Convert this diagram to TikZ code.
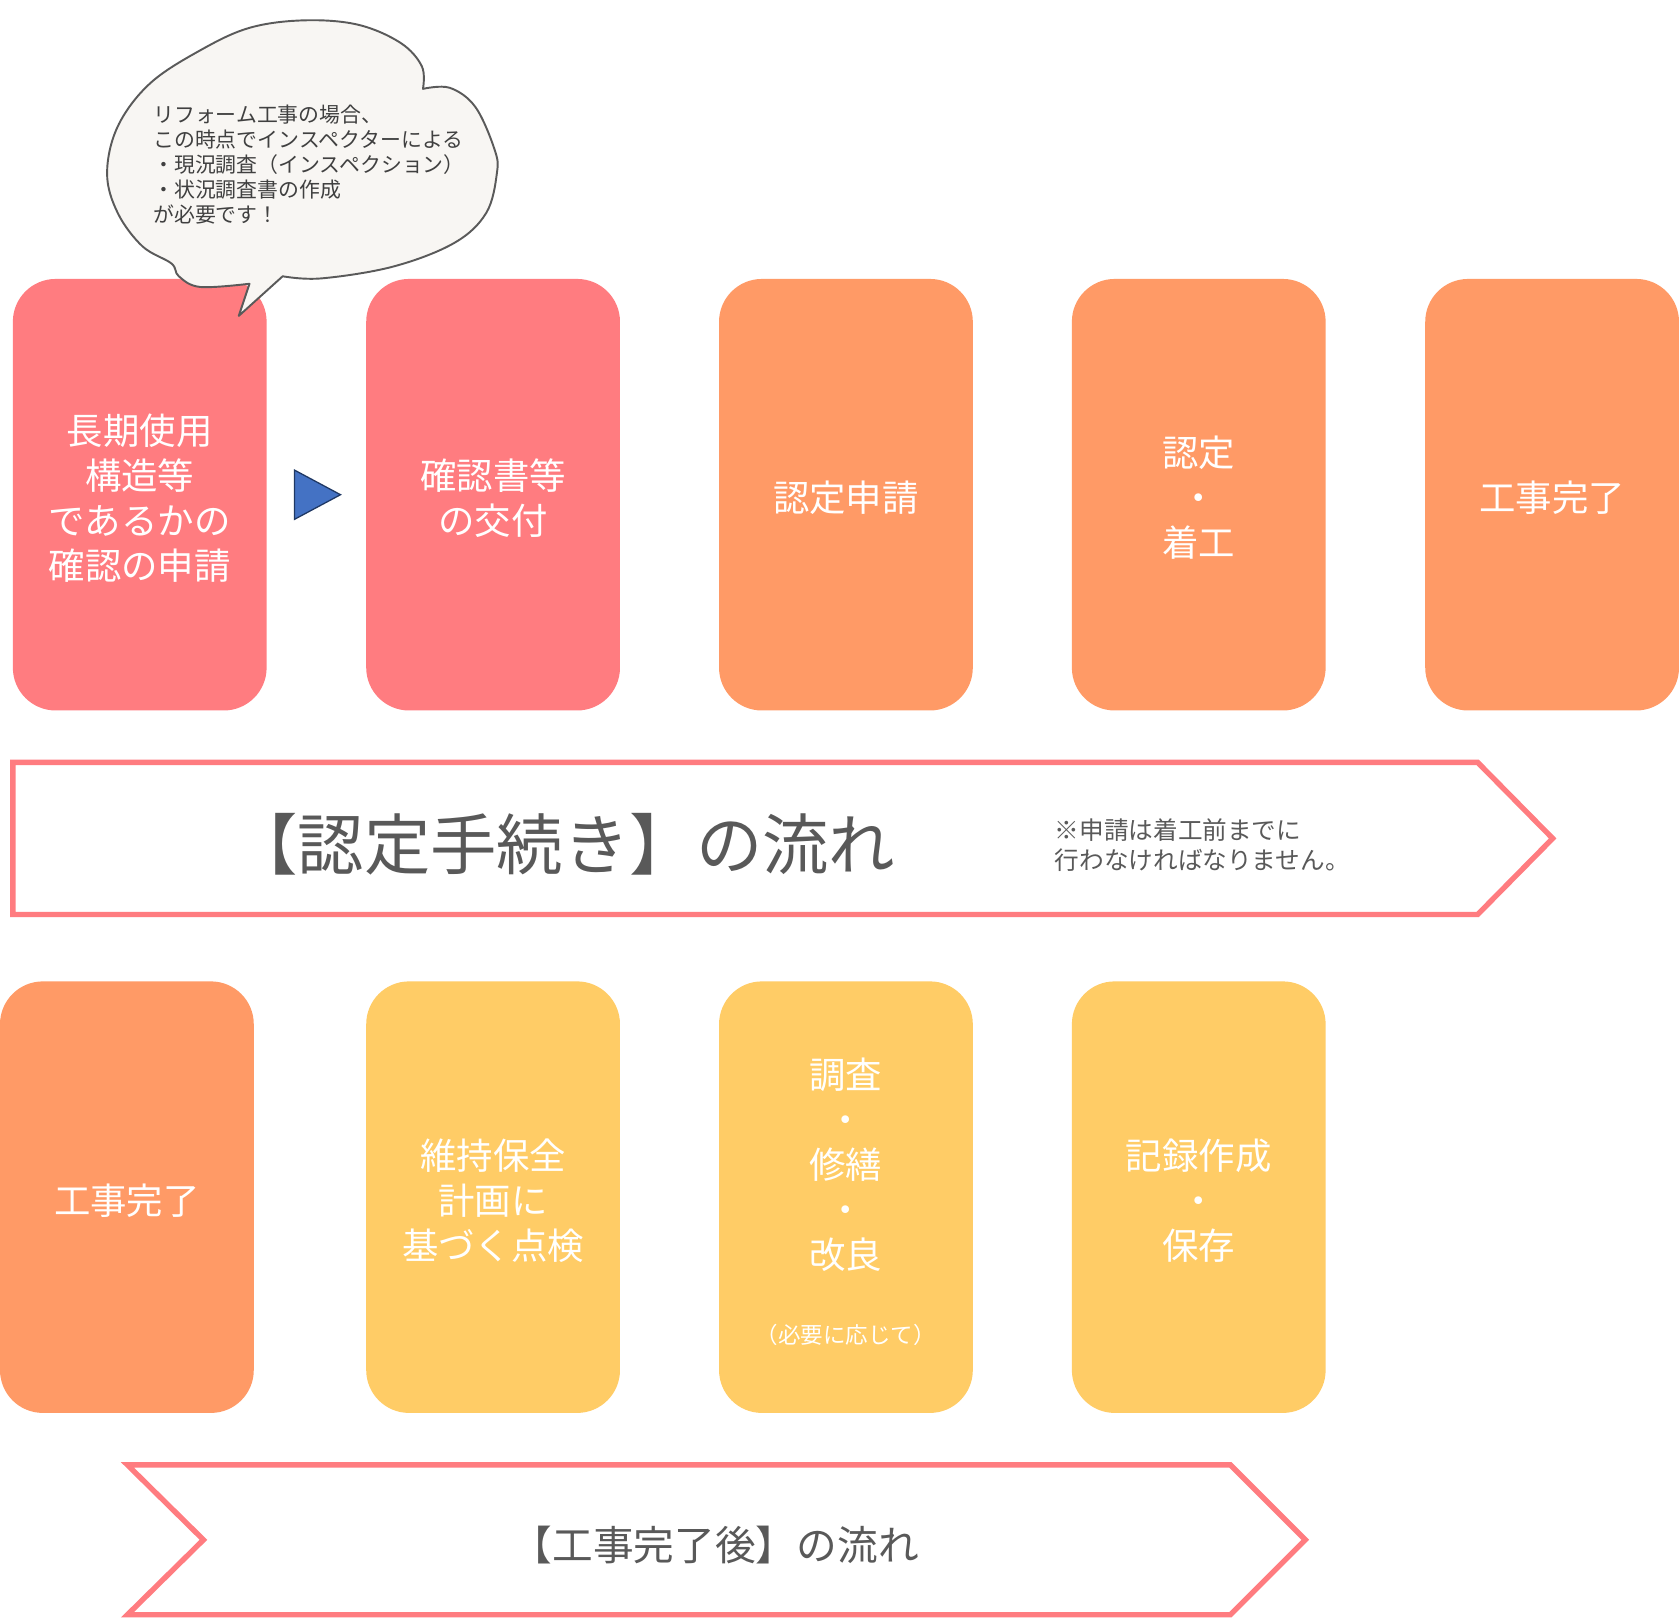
\documentclass[tikz,border=0pt]{standalone}
\usepackage{fontspec}
\setmainfont{Noto Sans CJK JP}
\definecolor{pinkc}{HTML}{FF7C80}
\definecolor{orangec}{HTML}{FF9A66}
\definecolor{yellowc}{HTML}{FFCC66}
\definecolor{txtgray}{HTML}{595959}
\definecolor{bubblefill}{HTML}{F8F6F3}
\definecolor{bubbleline}{HTML}{5A5A5A}
\definecolor{bubbletext}{HTML}{404040}
\definecolor{tric}{HTML}{4472C4}
\definecolor{trid}{HTML}{1F3864}
\begin{document}
\begin{tikzpicture}[x=1pt,y=-1pt,
  stepbox/.style={rounded corners=40pt, minimum width=237pt, minimum height=403pt, inner sep=0pt, draw=none},
  boxtext/.style={text=white, align=center, font=\fontsize{34}{42}\selectfont, inner sep=0pt},
  flowarrow/.style={draw=pinkc, line width=5pt, fill=white, line join=miter},
  flowtext/.style={text=txtgray, inner sep=0pt}]
\useasboundingbox[fill=white] (0,0) rectangle (1568,1512);

% top row
\node[stepbox, fill=pinkc]   (b1) at (130.5,462) {};
\node[stepbox, fill=pinkc]   (b2) at (460.5,462) {};
\node[stepbox, fill=orangec] (b3) at (790,462) {};
\node[stepbox, fill=orangec] (b4) at (1119.5,462) {};
\node[stepbox, fill=orangec] (b5) at (1449.5,462) {};
\node[boxtext] (t1) at (130.5,465) {長期使用\\構造等\\であるかの\\確認の申請};
\node[boxtext] (t2) at (460.5,465) {確認書等\\の交付};
\node[boxtext] (t3) at (790,465) {認定申請};
\node[boxtext] (t4) at (1119.5,465) {認定\\・\\着工};
\node[boxtext] (t5) at (1449.5,465) {工事完了};

% blue triangle marker
\coordinate (tA) at (275,439);
\coordinate (tB) at (318,462);
\coordinate (tC) at (275,485);
\draw[fill=tric, draw=trid, line width=1.2pt, line join=miter] (tA) -- (tB) -- (tC) -- cycle;

% first flow arrow
\draw[flowarrow] (12,712) -- (1380,712) -- (1450,783) -- (1380,854) -- (12,854) -- cycle;
\node[flowtext, font=\fontsize{62}{62}\selectfont] (f1) at (526,788) {【認定手続き】の流れ};
\node[flowtext, font=\fontsize{23}{28}\selectfont, align=left, anchor=west] (note) at (985,789) {※申請は着工前までに\\行わなければなりません。};

% bottom row
\node[stepbox, fill=orangec] (b6) at (118.5,1118) {};
\node[stepbox, fill=yellowc] (b7) at (460.5,1118) {};
\node[stepbox, fill=yellowc] (b8) at (790,1118) {};
\node[stepbox, fill=yellowc] (b9) at (1119.5,1118) {};
\node[boxtext] (t6) at (118.5,1121) {工事完了};
\node[boxtext] (t7) at (460.5,1121) {維持保全\\計画に\\基づく点検};
\node[boxtext] (t8) at (790,1088) {調査\\・\\修繕\\・\\改良};
\node[boxtext, font=\fontsize{21}{24}\selectfont] (t8b) at (790,1247) {（必要に応じて）};
\node[boxtext] (t9) at (1119.5,1121) {記録作成\\・\\保存};

% second flow arrow
\draw[flowarrow] (119,1368) -- (1149,1368) -- (1219,1438) -- (1149,1508) -- (119,1508) -- (190,1438) -- cycle;
\node[flowtext, font=\fontsize{38}{38}\selectfont] (f2) at (668,1443) {【工事完了後】の流れ};

% speech bubble
\draw[fill=bubblefill, draw=bubbleline, line width=1.8pt, line join=round]
  (233,265) -- plot[smooth, tension=0.6] coordinates {(233,265) (187,268) (167,258) (160,246) (133,230) (110,199) (100,162) (110,118) (140,78) (187,47) (233,26) (284,19) (334,23) (374,40) (394,62) (395,83)}
  -- plot[smooth, tension=0.6] coordinates {(395,83) (420,82) (444,100) (462,140) (464,162) (454,199) (424,227) (367,249) (300,260) (264,258)}
  -- (223,295) -- cycle;
\node[font=\fontsize{19.5}{23.3}\selectfont, text=bubbletext, align=left, anchor=west, inner sep=0pt] (bt) at (143,153.5)
  {リフォーム工事の場合、\\この時点でインスペクターによる\\・現況調査（インスペクション）\\・状況調査書の作成\\が必要です！};
\end{tikzpicture}
\end{document}
